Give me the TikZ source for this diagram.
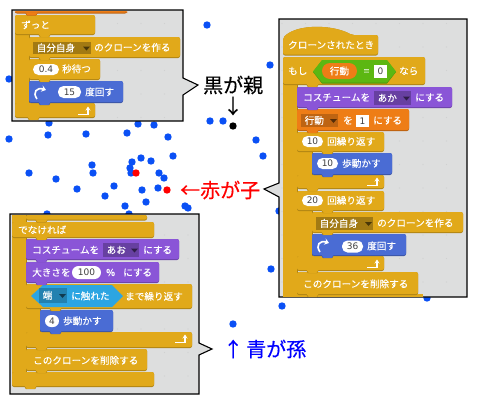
\documentclass[tikz,border=0pt]{standalone}
\usepackage{fontspec}
\usetikzlibrary{arrows.meta}
\newfontfamily\jpfont[FakeBold=0.3]{Noto Sans CJK JP}
\newfontfamily\numfont{DejaVu Sans}
\definecolor{ctrlc}{HTML}{E1A91A}
\definecolor{motionc}{HTML}{4A6CD4}
\definecolor{looksc}{HTML}{8A55D7}
\definecolor{datac}{HTML}{EE7D16}
\definecolor{opc}{HTML}{5CB712}
\definecolor{sensec}{HTML}{2CA5E2}
\definecolor{panelc}{HTML}{DDDEDE}
\definecolor{griddot}{HTML}{D0D1D1}
\definecolor{dotblue}{HTML}{0A50F5}
\newcommand{\blockat}[7]{
	\fill[#6!78!black, rounded corners=2pt] (#2,#3) rectangle (#4,#5);
	\fill[#6!78!black] ({#7},{#5-1}) -- ++(2,3.2) -- ++(9,0) -- ++(2,-3.2) -- cycle;
	\node[blockbox, fill=#6, minimum width={(#4-#2)*1pt}, minimum height={(#5-#3-1)*1pt}] (#1) at (#2,#3) {};
	\fill[#6] ({#7+0.6},{#5-1.2}) -- ++(2,3) -- ++(8,0) -- ++(2,-3) -- cycle;
}
\newcommand{\armat}[5]{
	\fill[#5] (#1,#2) rectangle (#3,#4);
	\draw[#5!78!black, line width=0.7pt] (#3,#2) -- (#3,#4);
}
\newcommand{\dropat}[7]{
	\node[dropbox, fill=#6, minimum width={(#4-#2)*1pt}, minimum height={(#5-#3)*1pt}] (#1) at (#2,#3) {};
	\fill[#6!45!black] ({#4-8},{(#3+#5)/2-1.5}) -- ++(7,0) -- ++(-3.5,4) -- cycle;
	\node[blocktext] (#1text) at ({#2+3.5},{(#3+#5)/2}) {#7};
}
\newcommand{\loopat}[3]{
	\draw[white, line width=1.5pt, -{Stealth[length=4pt,width=5pt]}] ({#2-8},{#3+3.5}) -- ({#2+2},{#3+3.5}) -- ({#2+2},{#3-4.5});
}
\newcommand{\turnat}[3]{
	\draw[white, line width=1.6pt, -{Stealth[length=4.5pt,width=6.5pt]}] ({#2-3},{#3+6}) .. controls ({#2-8},{#3-1}) and ({#2-3},{#3-6}) .. ({#2+6},{#3-3});
}
\newcommand{\gridat}[4]{
	\begin{scope}
		\clip (#1,#2) rectangle (#3,#4);
		\foreach \gx in {0,23.5,...,480}
			\foreach \gy in {0,23.5,...,405}
				\fill[griddot] (\gx,\gy) circle (0.7);
	\end{scope}
}
\tikzset{
	blockbox/.style={rectangle, rounded corners=2pt, inner sep=0pt, outer sep=0pt, anchor=north west},
	dropbox/.style={rectangle, inner sep=0pt, outer sep=0pt, anchor=north west},
	blocktext/.style={text=white, font=\jpfont\fontsize{9.6}{10}\selectfont, anchor=west, inner sep=0pt, text height=8pt, text depth=1pt},
	pillbox/.style={rectangle, rounded corners=5.5pt, fill=white, inner sep=0pt, outer sep=0pt, text=black!75, font=\numfont\fontsize{9}{9}\selectfont},
	valbox/.style={rectangle, fill=white, inner sep=0pt, outer sep=0pt, text=black!75, font=\numfont\fontsize{9}{9}\selectfont},
	panelbox/.style={fill=panelc, draw=black, line width=1.1pt, line join=miter},
	bluedot/.style={circle, fill=dotblue, minimum size=7.4pt, inner sep=0pt},
	reddot/.style={circle, fill=red, minimum size=7.4pt, inner sep=0pt},
	blackdot/.style={circle, fill=black, minimum size=7.4pt, inner sep=0pt},
	bigtext/.style={font=\jpfont\fontsize{20}{22}\selectfont, anchor=west, inner sep=0pt},
}
\begin{document}
\begin{tikzpicture}[x=1pt, y=-1pt]
	\useasboundingbox (0,0) rectangle (480,405);
	\fill[white] (0,0) rectangle (480,405);
	% dots
	\foreach \x/\y [count=\i] in {207/25, 9/79, 270/65, 210/121, 223/121, 256/140, 263/156, 49/123, 138/124, 154/125, 9/139, 48/135, 86/134, 127/133, 168/137, 173/156, 141/158, 151/161, 132/162, 92/165, 93/173, 130/168, 131/173, 159/173, 164/178, 29/173, 56/179, 77/189, 114/186, 105/196, 142/190, 158/188, 146/202, 125/206, 185/206, 188/208, 47/214, 129/214, 279/211, 271/269, 282/306, 233/324, 427/298}
		\node[bluedot] (blue\i) at (\x,\y) {};
	\node[reddot] (redA) at (136,173) {};
	\node[reddot] (redB) at (167,190) {};
	\node[blackdot] (parent) at (233,126) {};

	% top left panel
	\draw[panelbox] (12,10) -- (183,10) -- (183,78) -- (198,85) -- (183,95) -- (183,121) -- (12,121) -- cycle;
	\gridat{13}{11}{182}{120}
	\armat{15}{30}{29}{106}{ctrlc}
	\blockat{foreverfoot}{15}{103}{95}{118}{ctrlc}{27}
	\loopat{foreverfoot}{86}{111}
	\blockat{turnA}{29}{81}{123}{103}{motionc}{38}
	\turnat{turnA}{40}{93}
	\node[pillbox, minimum width=23pt, minimum height=12pt] (turnAval) at (69.5,92) {15};
	\node[blocktext] (turnAtext) at (85,92) {度回す};
	\blockat{wait}{29}{59}{100}{80}{ctrlc}{38}
	\node[pillbox, minimum width=26pt, minimum height=11pt] (waitval) at (46,69.5) {0.4};
	\node[blocktext] (waittext) at (62,69) {秒待つ};
	\blockat{cloneA}{29}{37}{180}{58}{ctrlc}{38}
	\dropat{cloneAdrop}{33}{42}{91}{54}{ctrlc!72!black}{自分自身}
	\node[blocktext] (cloneAtext) at (94,47.5) {のクローンを作る};
	\blockat{forever}{15}{15}{95}{35}{ctrlc}{38}
	\node[blocktext] (forevertext) at (21,25) {ずっと};
	\blockat{stubA}{15}{11}{127}{13.5}{datac}{25}

	% right panel
	\draw[panelbox] (279,19) -- (467,19) -- (467,297) -- (279,297) -- (279,197) -- (264,189) -- (279,183) -- cycle;
	\gridat{280}{20}{466}{296}
	\armat{283}{80}{297}{296.5}{ctrlc}
	\fill[ctrlc] (283,294) rectangle (423,296.5);
	\blockat{deleteA}{297}{272}{418}{295}{ctrlc}{306}
	\node[blocktext] (deleteAtext) at (303,284) {このクローンを削除する};
	\armat{297}{205}{312}{260}{ctrlc}
	\blockat{repeatBfoot}{297}{256}{384}{271}{ctrlc}{306}
	\loopat{repeatBfoot}{375}{264}
	\blockat{turnB}{312}{234}{406}{256}{motionc}{321}
	\turnat{turnB}{323}{246}
	\node[pillbox, minimum width=21pt, minimum height=12pt] (turnBval) at (352.5,246.5) {36};
	\node[blocktext] (turnBtext) at (367,246) {度回す};
	\blockat{cloneB}{312}{212}{463}{233}{ctrlc}{321}
	\dropat{cloneBdrop}{316}{217}{373}{230}{ctrlc!72!black}{自分自身}
	\node[blocktext] (cloneBtext) at (377,223) {のクローンを作る};
	\blockat{repeatB}{297}{191}{384}{211}{ctrlc}{321}
	\node[pillbox, minimum width=21pt, minimum height=11pt] (repeatBval) at (312.5,200.5) {20};
	\node[blocktext] (repeatBtext) at (327,200.5) {回繰り返す};
	\armat{297}{148}{312}{178}{ctrlc}
	\blockat{repeatAfoot}{297}{175}{384}{189}{ctrlc}{306}
	\loopat{repeatAfoot}{375}{182}
	\blockat{walkA}{312}{153}{392}{175}{motionc}{321}
	\node[pillbox, minimum width=21pt, minimum height=11pt] (walkAval) at (327.5,163.5) {10};
	\node[blocktext] (walkAtext) at (342,163.5) {歩動かす};
	\blockat{repeatA}{297}{132}{384}{152}{ctrlc}{321}
	\node[pillbox, minimum width=21pt, minimum height=11pt] (repeatAval) at (312.5,141.5) {10};
	\node[blocktext] (repeatAtext) at (327,141.5) {回繰り返す};
	\blockat{setvar}{297}{109}{409}{131}{datac}{306}
	\dropat{setvardrop}{301}{114}{338}{127}{datac!80!black}{行動}
	\node[blocktext] (setvarwo) at (343,120.5) {を};
	\node[valbox, minimum width=13pt, minimum height=12pt] (setvarval) at (362.5,121) {1};
	\node[blocktext] (setvartext) at (373,120.5) {にする};
	\blockat{costumeA}{297}{87}{452}{108}{looksc}{306}
	\node[blocktext] (costumeAtext) at (303,97.5) {コスチュームを};
	\dropat{costumeAdrop}{374}{91}{411}{105}{looksc!75!black}{あか}
	\node[blocktext] (costumeAend) at (415,97.5) {にする};
	\blockat{ifblock}{283}{57}{425}{85}{ctrlc}{306}
	\node[blocktext] (iftext) at (288,71) {もし};
	\fill[opc!80!black] (313,72) -- (322,60.5) -- (387,60.5) -- (396,72) -- (387,83.5) -- (322,83.5) -- cycle;
	\fill[opc] (313,71.5) -- (322,60) -- (387,60) -- (396,71.5) -- (387,82.5) -- (322,82.5) -- cycle;
	\node[pillbox, fill=datac, text=white, rounded corners=8pt, font=\jpfont\fontsize{9.6}{10}\selectfont, minimum width=35pt, minimum height=16pt] (ifvar) at (339.5,71) {行動};
	\node[blocktext] (ifeq) at (362,71) {\,=};
	\node[valbox, minimum width=13pt, minimum height=13pt] (ifval) at (380.5,71.5) {0};
	\node[blocktext] (ifend) at (399,71) {なら};
	\fill[ctrlc!78!black, rounded corners=2pt] (283,55.5) -- (283,38) .. controls (296,24) and (332,24) .. (352,35) -- (378,35) -- (378,55.5) -- cycle;
	\fill[ctrlc, rounded corners=2pt] (283,54.5) -- (283,38) .. controls (296,24) and (332,24) .. (352,35) -- (378,35) -- (378,54.5) -- cycle;
	\node[blocktext] (hattext) at (288,45) {クローンされたとき};

	% bottom left panel
	\draw[panelbox] (10,214) -- (199,214) -- (199,343) -- (212,349) -- (199,355) -- (199,394) -- (10,394) -- cycle;
	\gridat{11}{215}{198}{393}
	\armat{12}{215}{26}{376}{ctrlc}
	\blockat{elsefoot}{12}{372}{154}{387}{ctrlc}{24}
	\blockat{deleteB}{26}{349}{147}{371}{ctrlc}{35}
	\node[blocktext] (deleteBtext) at (33,360.5) {このクローンを削除する};
	\armat{26}{300}{40}{336}{ctrlc}
	\blockat{untilfoot}{26}{332}{192}{348}{ctrlc}{35}
	\loopat{untilfoot}{183}{339}
	\blockat{walkB}{40}{310}{113}{332}{motionc}{49}
	\node[pillbox, minimum width=14pt, minimum height=12pt, rounded corners=6pt] (walkBval) at (52,321) {4};
	\node[blocktext] (walkBtext) at (63,321) {歩動かす};
	\blockat{until}{26}{284}{192}{309}{ctrlc}{49}
	\fill[sensec] (31,296) -- (43,285) -- (112,285) -- (123,296) -- (112,307) -- (43,307) -- cycle;
	\dropat{untildrop}{39}{288}{67}{303}{sensec!78!black}{端}
	\node[blocktext] (untiltouch) at (71,296) {に触れた};
	\node[blocktext] (untiltext) at (125,296.5) {まで繰り返す};
	\blockat{sizeset}{26}{262}{159}{283}{looksc}{35}
	\node[blocktext] (sizetext) at (32,272.5) {大きさを};
	\node[pillbox, minimum width=29pt, minimum height=13pt, rounded corners=6.5pt] (sizeval) at (86.5,272.5) {100};
	\node[blocktext] (sizepct) at (106,272.5) {\%};
	\node[blocktext] (sizeend) at (123,272.5) {にする};
	\blockat{costumeB}{26}{239}{179}{260}{looksc}{35}
	\node[blocktext] (costumeBtext) at (32,250) {コスチュームを};
	\dropat{costumeBdrop}{103}{243}{139}{257}{looksc!75!black}{あお}
	\node[blocktext] (costumeBend) at (143,250) {にする};
	\blockat{elsebar}{12}{222}{154}{238}{ctrlc}{35}
	\node[blocktext] (elsetext) at (18,230) {でなければ};
	\blockat{stubB}{26}{215}{147}{220.5}{ctrlc}{35}

	% labels
	\node[bigtext] (blacklabel) at (203,85) {黒が親};
	\node[bigtext, anchor=center] (blackarrow) at (233,106) {↓};
	\node[bigtext, text=red] (redlabel) at (180,190) {←赤が子};
	\node[bigtext, text=blue] (bluelabel) at (223,349) {↑\kern3pt 青が孫};
\end{tikzpicture}
\end{document}
